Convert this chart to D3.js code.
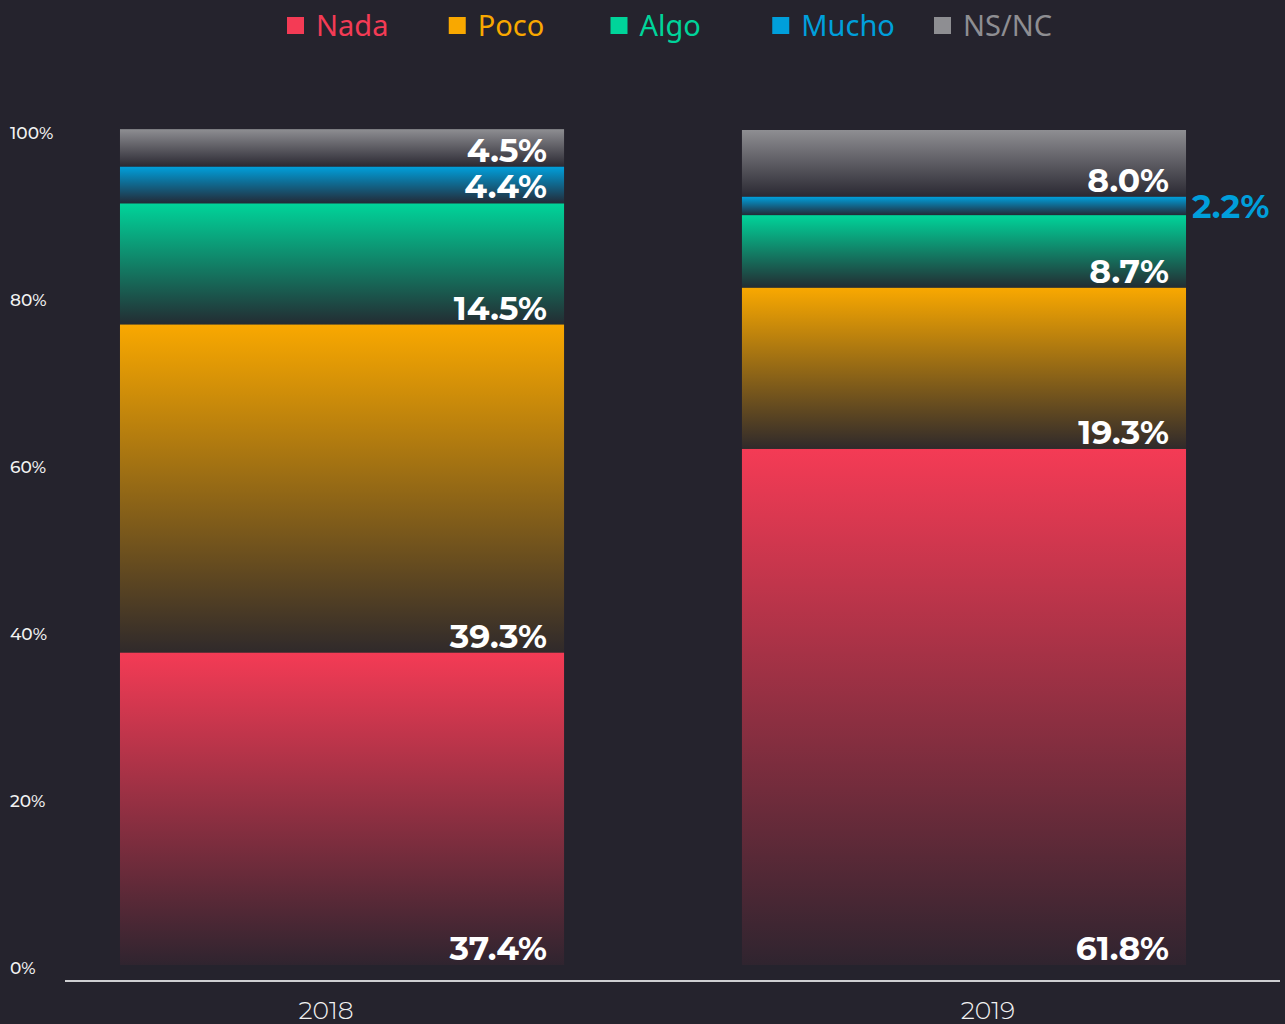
<!DOCTYPE html>
<html>
<head>
<meta charset="utf-8">
<script src="https://cdn.jsdelivr.net/npm/d3@7"></script>
<style>
  body { margin: 0; background: #25232d; }
  svg { display: block; }
  .tick-label { fill: #f2f2f2; font-family: Montserrat, "Open Sans", sans-serif; font-size: 17px; font-weight: 500; }
  .year-label { fill: #f2f2f2; font-family: Montserrat, "Open Sans", sans-serif; font-size: 25px; font-weight: 300; }
  .val-label { font-family: Montserrat, Inter, sans-serif; font-size: 33px; font-weight: 700; }
  .legend-text { font-family: "Noto Sans", sans-serif; font-size: 29px; }
</style>
</head>
<body>
<svg id="chart" width="1285" height="1024"></svg>
<script>
// data
const years = ["2018", "2019"];
const series = ["Nada", "Poco", "Algo", "Mucho", "NS/NC"];
const colors = ["#f43b55", "#f9a800", "#00d49a", "#009fdb", "#8e8e92"];
const nada = [37.4, 61.8];
const poco = [39.3, 19.3];
const algo = [14.5, 8.7];
const mucho = [4.4, 2.2];
const nsnc = [4.5, 8.0];
const yTicks = [0, 20, 40, 60, 80, 100];

const inside_cutoff = 3; // % below which label goes outside

const rows = years.map((y, i) => ({
  year: y,
  "Nada": nada[i], "Poco": poco[i], "Algo": algo[i], "Mucho": mucho[i], "NS/NC": nsnc[i]
}));

const svg = d3.select("#chart");
const defs = svg.append("defs");

const color = d3.scaleOrdinal().domain(series).range(colors);

series.forEach((s, i) => {
  const g = defs.append("linearGradient")
    .attr("id", "grad" + i)
    .attr("x1", 0).attr("y1", 0).attr("x2", 0).attr("y2", 1);
  g.append("stop").attr("offset", "0%").attr("stop-color", colors[i]).attr("stop-opacity", 1);
  g.append("stop").attr("offset", "100%").attr("stop-color", colors[i]).attr("stop-opacity", 0.05);
});

const x = d3.scaleBand()
  .domain(years)
  .range([64, 1242])
  .paddingInner(0.286)
  .paddingOuter(0.09);

const xLabel = d3.scalePoint().domain(years).range([326, 988]);

const y = d3.scaleLinear().domain([0, 100]).range([965, 130]);

const stacked = d3.stack().keys(series)(rows);

// bars
const layers = svg.append("g").selectAll("g")
  .data(stacked)
  .join("g");

layers.selectAll("rect")
  .data(d => d.map(v => ({ key: d.key, idx: d.index, v: v })))
  .join("rect")
  .attr("x", d => x(d.v.data.year))
  .attr("width", x.bandwidth())
  .attr("y", d => y(d.v[1]))
  .attr("height", d => y(d.v[0]) - y(d.v[1]))
  .attr("fill", d => "url(#grad" + d.idx + ")");

// value labels
layers.selectAll("text")
  .data(d => d.map(v => ({ key: d.key, idx: d.index, v: v })))
  .join("text")
  .attr("class", "val-label")
  .each(function (d) {
    const val = d.v[1] - d.v[0];
    const t = d3.select(this).text(val.toFixed(1) + "%");
    if (val < inside_cutoff) {
      t.attr("x", x(d.v.data.year) + x.bandwidth() + 6)
        .attr("y", y((d.v[0] + d.v[1]) / 2))
        .attr("dy", "0.36em")
        .attr("text-anchor", "start")
        .attr("fill", color(d.key));
    } else {
      t.attr("x", x(d.v.data.year) + x.bandwidth() - 17)
        .attr("y", y(d.v[0]) - 5)
        .attr("text-anchor", "end")
        .attr("fill", "#ffffff");
    }
  });

// y tick labels
svg.append("g").selectAll("text")
  .data(yTicks)
  .join("text")
  .attr("class", "tick-label")
  .attr("x", 10)
  .attr("y", d => y(d) + 3)
  .attr("dy", "0.35em")
  .text(d => d + "%");

// x axis line
svg.append("line")
  .attr("x1", 65).attr("x2", 1280)
  .attr("y1", 981).attr("y2", 981)
  .attr("stroke", "#cfcfd2")
  .attr("stroke-width", 2);

svg.append("g").selectAll("text")
  .data(years)
  .join("text")
  .attr("class", "year-label")
  .attr("x", d => xLabel(d))
  .attr("y", 1019)
  .attr("text-anchor", "middle")
  .text(d => d);

// legend
const legendX = d3.scalePoint().domain(series).range([287, 934]);
const legend = svg.append("g").selectAll("g")
  .data(series)
  .join("g")
  .attr("transform", d => "translate(" + legendX(d) + ",17)");

legend.append("rect")
  .attr("width", 17).attr("height", 17)
  .attr("fill", d => color(d));

legend.append("text")
  .attr("class", "legend-text")
  .attr("x", 29)
  .attr("y", 19)
  .attr("fill", d => color(d))
  .text(d => d);
</script>
</body>
</html>
